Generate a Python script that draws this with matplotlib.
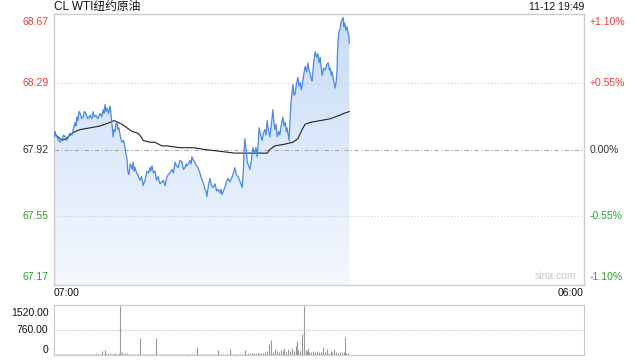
import matplotlib.pyplot as plt
import numpy as np
from matplotlib.patches import Polygon

plt.rcParams['font.family'] = ['Liberation Sans', 'Noto Sans CJK SC', 'DejaVu Sans']

# 分时数据：自 07:00 起的分钟数 与 价格
price_t = [0, 1, 3, 5, 8, 12, 16, 18, 21, 25, 29, 32, 36, 41, 47, 51, 55, 57, 60, 62,
           65, 68, 72, 76, 79, 83, 88, 94, 98, 102, 105, 109, 114, 120, 124, 128, 130, 133, 135, 138,
           142, 146, 148, 151, 154, 156, 159, 161, 164, 166, 169, 173, 177, 181, 185, 187, 190, 192, 195, 198,
           201, 204, 206, 209, 211, 215, 219, 221, 224, 228, 232, 235, 237, 240, 242, 246, 250, 252, 255, 259,
           263, 267, 271, 276, 281, 285, 289, 293, 297, 302, 307, 311, 315, 319, 323, 328, 333, 337, 341, 344,
           346, 350, 354, 357, 359, 363, 367, 371, 375, 378, 380, 384, 388, 391, 393, 396, 398, 402, 406, 410,
           414, 419, 424, 428, 432, 435, 437, 441, 445, 449, 453, 458, 464, 467, 471, 475, 479, 485, 490, 493,
           495, 497, 499, 500, 502, 503, 507, 510, 514, 518, 521, 523, 526, 529, 532, 534, 538, 542, 545, 549,
           552, 555, 558, 562, 566, 570, 572, 575, 578, 581, 585, 588, 592, 596, 599, 602, 605, 607, 610, 612,
           615, 617, 620, 622, 625, 628, 631, 635, 638, 641, 644, 646, 650, 654, 658, 661, 664, 667, 670, 672,
           676, 680, 684, 687, 690, 693, 696, 698, 702, 706, 710, 714, 717, 719, 722, 724, 728, 732, 735, 737,
           738, 740, 742, 745, 747, 750, 753, 754, 755, 757, 760, 763, 766, 768, 769]
price_v = [68.01, 67.99, 68.02, 68.00, 67.99, 67.97, 67.96, 67.98, 67.97, 68.00, 67.99, 67.97, 67.98, 68.01, 68.00, 68.04, 68.07, 68.05, 68.10, 68.08,
           68.13, 68.12, 68.09, 68.10, 68.13, 68.12, 68.09, 68.11, 68.09, 68.13, 68.10, 68.11, 68.09, 68.12, 68.10, 68.14, 68.12, 68.17, 68.13, 68.15,
           68.12, 68.16, 68.12, 68.06, 67.99, 68.03, 68.02, 68.06, 68.07, 68.03, 68.04, 67.99, 67.96, 67.97, 67.93, 67.90, 67.87, 67.80, 67.78, 67.84,
           67.83, 67.81, 67.85, 67.80, 67.82, 67.79, 67.78, 67.76, 67.75, 67.77, 67.72, 67.74, 67.75, 67.78, 67.80, 67.79, 67.82, 67.80, 67.83, 67.79,
           67.80, 67.75, 67.77, 67.73, 67.74, 67.75, 67.72, 67.76, 67.78, 67.79, 67.81, 67.79, 67.85, 67.83, 67.82, 67.86, 67.85, 67.81, 67.82, 67.84,
           67.83, 67.84, 67.86, 67.84, 67.88, 67.86, 67.85, 67.83, 67.82, 67.80, 67.79, 67.76, 67.74, 67.72, 67.70, 67.69, 67.66, 67.72, 67.76, 67.72,
           67.71, 67.73, 67.69, 67.70, 67.68, 67.70, 67.67, 67.69, 67.71, 67.74, 67.76, 67.74, 67.77, 67.79, 67.82, 67.78, 67.77, 67.74, 67.71, 67.80,
           67.92, 67.98, 67.94, 67.92, 67.88, 67.85, 67.83, 67.81, 67.86, 67.93, 67.90, 67.91, 67.93, 67.88, 67.96, 68.04, 68.00, 67.97, 68.01, 68.03,
           68.00, 68.08, 68.03, 67.99, 68.06, 68.14, 68.08, 68.03, 68.06, 67.99, 68.02, 68.00, 68.06, 68.10, 68.05, 68.07, 68.02, 68.04, 68.00, 67.97,
           68.10, 68.18, 68.24, 68.28, 68.22, 68.23, 68.28, 68.32, 68.27, 68.29, 68.25, 68.27, 68.33, 68.38, 68.35, 68.40, 68.36, 68.34, 68.31, 68.30,
           68.40, 68.46, 68.43, 68.45, 68.40, 68.43, 68.37, 68.33, 68.37, 68.36, 68.39, 68.40, 68.36, 68.37, 68.33, 68.35, 68.30, 68.26, 68.30, 68.36,
           68.45, 68.53, 68.57, 68.59, 68.62, 68.64, 68.65, 68.62, 68.60, 68.62, 68.58, 68.60, 68.56, 68.55, 68.51]

avg_t = [0, 10, 21, 31, 42, 55, 68, 94, 120, 133, 146, 156, 167, 177, 190, 203, 219, 227, 232, 250,
         263, 281, 294, 328, 362, 393, 432, 471, 492, 523, 555, 562, 575, 602, 622, 635, 646, 654, 667, 693,
         719, 745, 755, 769]
avg_v = [68.01, 67.99, 67.97, 67.98, 68.00, 68.02, 68.03, 68.04, 68.05, 68.06, 68.07, 68.08, 68.07, 68.06, 68.04, 68.02, 68.01, 67.99, 67.97, 67.96,
         67.96, 67.94, 67.94, 67.93, 67.93, 67.92, 67.91, 67.90, 67.90, 67.90, 67.90, 67.92, 67.94, 67.95, 67.96, 67.98, 68.03, 68.06, 68.07, 68.08,
         68.09, 68.11, 68.12, 68.13]

# 成交量：每 5 分钟一根的基础量 + 放量
base_vol = [20, 25, 18, 30, 22, 28, 35, 20, 26, 30,
            24, 32, 40, 28, 35, 30, 45, 38, 30, 26,
            34, 40, 60, 45, 38, 70, 42, 36, 55, 48,
            40, 38, 50, 45, 62, 40, 35, 48, 52, 44,
            38, 30, 42, 36, 40, 45, 38, 33, 30, 36,
            40, 34, 30, 28, 35, 30, 26, 32, 28, 30,
            25, 28, 32, 26, 30, 24, 28, 35, 30, 26,
            28, 32, 30, 26, 35, 38, 30, 28, 33, 30,
            36, 32, 40, 35, 30, 42, 38, 34, 40, 36,
            32, 38, 45, 40, 36, 42, 38, 44, 40, 35,
            42, 48, 45, 52, 60, 55, 48, 58, 65, 60,
            90, 110, 85, 120, 95, 80, 130, 100, 75, 115,
            140, 90, 105, 125, 150, 110, 95, 160, 130, 120,
            170, 140, 110, 100, 90, 120, 85, 110, 95, 80,
            130, 90, 100, 75, 110, 85, 95, 80, 70, 90,
            100, 80, 60, 50]
spike_t = [124, 133, 172, 178, 223, 266, 373, 428, 459, 497, 559, 565, 575, 590, 600, 610, 620, 629, 634, 646, 651, 661, 701, 712, 730, 757]
spike_v = [125, 145, 1500, 100, 520, 520, 230, 145, 175, 145, 330, 460, 180, 160, 200, 180, 220, 280, 430, 640, 1490, 200, 230, 170, 180, 540]

prev_close = 67.92
y_ticks = [67.17, 67.55, 67.92, 68.29, 68.67]
pct_labels = ['-1.10%', '-0.55%', '0.00%', '+0.55%', '+1.10%']
vol_ticks = [0, 760, 1520]
vol_labels = ['0', '760.00', '1520.00']
total_min = 1380  # 07:00 -> 次日 06:00

red = '#f03a3a'
green = '#27a327'
grey_txt = '#333333'

fig = plt.figure(figsize=(6.4, 3.6), dpi=100)
ax = fig.add_axes([54 / 640, 1 - 285 / 360, 530 / 640, 271 / 360])
axv = fig.add_axes([54 / 640, 5 / 360, 530 / 640, 50 / 360])

ymin, ymax = y_ticks[0], y_ticks[-1]
ax.set_xlim(0, total_min)
ax.set_ylim(ymin, ymax)

# 渐变填充
grad = np.linspace(1, 0, 256).reshape(-1, 1)
top_c = np.array([200, 219, 247]) / 255
bot_c = np.array([244, 248, 254]) / 255
img = grad[..., None] * top_c + (1 - grad[..., None]) * bot_c
im = ax.imshow(img, extent=(0, price_t[-1], ymin, ymax), aspect='auto', origin='upper', zorder=1)
verts = [(price_t[0], ymin)] + list(zip(price_t, price_v)) + [(price_t[-1], ymin)]
poly = Polygon(verts, facecolor='none', edgecolor='none')
ax.add_patch(poly)
im.set_clip_path(poly)

# 网格线
for v in [y_ticks[1], y_ticks[3]]:
    ax.axhline(v, color='#cfcfcf', lw=0.8, ls=(0, (1, 2)), zorder=2)
ax.axhline(prev_close, color='#aaaaaa', lw=0.8, ls=(0, (4, 2, 1, 2)), zorder=2)

ax.plot(price_t, price_v, color='#4a89e8', lw=0.9, zorder=4)
ax.plot(avg_t, avg_v, color='#222222', lw=0.8, zorder=3)

ax.set_xticks([])
ax.set_yticks([])
for s in ax.spines.values():
    s.set_color('#cccccc')
    s.set_linewidth(1)

# 左右刻度文字
for i, v in enumerate(y_ticks):
    c = red if v > prev_close else (green if v < prev_close else grey_txt)
    va = 'top' if i == len(y_ticks) - 1 else ('bottom' if i == 0 else 'center')
    off = -2 if va == 'top' else (2 if va == 'bottom' else 0)
    ax.annotate(f'{v:.2f}', (0, v), xycoords=('axes fraction', 'data'), xytext=(-4, off),
                textcoords='offset points', ha='right', va=va, color=c, fontsize=7.5)
    ax.annotate(pct_labels[i], (1, v), xycoords=('axes fraction', 'data'), xytext=(4, off),
                textcoords='offset points', ha='left', va=va, color=c, fontsize=7.5)

fig.text(54 / 640, 1 - 7 / 360, 'CL WTI纽约原油', ha='left', va='center', fontsize=8.5, color='#111111')
fig.text(584 / 640, 1 - 7 / 360, '11-12 19:49', ha='right', va='center', fontsize=7.5, color='#111111')
ax.text(0.985, 0.015, 'sina.com', transform=ax.transAxes, ha='right', va='bottom', fontsize=7.5, color='#c8c8c8')
fig.text(54 / 640, 1 - 293 / 360, '07:00', ha='left', va='center', fontsize=7.5, color='#111111')
fig.text(584 / 640, 1 - 293 / 360, '06:00', ha='right', va='center', fontsize=7.5, color='#111111')

# 成交量
base_t = list(range(0, 5 * len(base_vol), 5))
axv.set_xlim(0, total_min)
axv.set_ylim(0, vol_ticks[-1])
axv.vlines(base_t, 0, base_vol, color='#999999', lw=0.8)
axv.vlines(spike_t, 0, spike_v, color='#999999', lw=0.8)
axv.axhline(vol_ticks[1], color='#c8c8c8', lw=0.8, ls=(0, (1, 1)))
axv.set_xticks([])
axv.set_yticks([])
for s in axv.spines.values():
    s.set_color('#c8c8c8')
    s.set_linestyle((0, (1, 1)))
    s.set_linewidth(0.8)
for i, v in enumerate(vol_ticks):
    va = 'bottom' if i == 0 else ('top' if i == len(vol_ticks) - 1 else 'center')
    off = 0 if va == 'bottom' else (-2 if va == 'top' else 0)
    axv.annotate(vol_labels[i], (0, v), xycoords=('axes fraction', 'data'), xytext=(-4, off),
                 textcoords='offset points', ha='right', va=va, color='#111111', fontsize=7.5)

fig.savefig('out.png', dpi=100)
